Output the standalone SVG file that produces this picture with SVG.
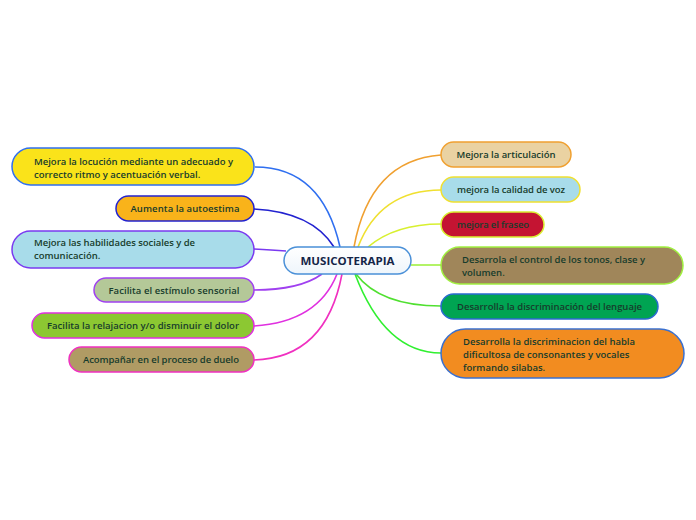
<svg xmlns="http://www.w3.org/2000/svg" width="696" height="520" viewBox="0 0 696 520">
<defs>
<linearGradient id="cg" x1="0" y1="0" x2="0" y2="1">
<stop offset="0" stop-color="#ffffff"/>
<stop offset="1" stop-color="#eef5fb"/>
</linearGradient>
<style>
.t{font-family:"Open Sans","Noto Sans","DejaVu Sans",sans-serif;font-size:9.5px;font-weight:600;fill:#173c2c}
.m{text-anchor:middle}
.c{font-family:"Open Sans","Noto Sans","DejaVu Sans",sans-serif;font-size:11px;font-weight:700;fill:#142548;text-anchor:middle}
.n{stroke-width:1.5}
#connectors path{fill:none;stroke-width:1.6}
</style>
</defs>
<rect width="696" height="520" fill="#ffffff"/>
<g id="connectors">
<path d="M255,167 Q322,167 340,247" stroke="#2f6ff0"/>
<path d="M254,209 Q312,212 334,247" stroke="#2222d0"/>
<path d="M254,249 Q272,250 286,251" stroke="#7a3af0"/>
<path d="M254,290 Q300,290 322,274" stroke="#a040f0"/>
<path d="M254,326 Q318,322 337,274" stroke="#e030e0"/>
<path d="M254,360 Q326,358 342,274" stroke="#f030c0"/>
<path d="M441,155 Q370,160 354,247" stroke="#f0a030"/>
<path d="M441,190 Q380,190 358,247" stroke="#f0e030"/>
<path d="M441,224 Q395,224 368,247" stroke="#d8f030"/>
<path d="M411,265 L441,265" stroke="#a0f040"/>
<path d="M356,274 Q380,306 441,306" stroke="#50e030"/>
<path d="M355,274 Q385,353 441,353" stroke="#30f030"/>
</g>
<g id="center">
<rect x="284" y="247" width="127" height="27" rx="13.5" fill="url(#cg)" stroke="#4a90d8" stroke-width="1.5"/>
<text class="c" x="347.5" y="265" textLength="94" lengthAdjust="spacingAndGlyphs">MUSICOTERAPIA</text>
</g>
<g id="l1">
<rect class="n" x="12" y="148" width="242" height="37" rx="18.5" fill="#fae31a" stroke="#2f6ff0"/>
<text class="t" x="34" y="164.5" textLength="199">Mejora la locución mediante un adecuado y</text>
<text class="t" x="34" y="177.5">correcto ritmo y acentuación verbal.</text>
</g>
<g id="l2">
<rect class="n" x="116" y="196" width="138" height="25" rx="12.5" fill="#f9b31a" stroke="#2222d0"/>
<text class="t m" x="185" y="212" textLength="109">Aumenta la autoestima</text>
</g>
<g id="l3">
<rect class="n" x="12" y="231" width="242" height="37" rx="18.5" fill="#a8dcea" stroke="#7a3af0"/>
<text class="t" x="34" y="245.5" textLength="161">Mejora las habilidades sociales y de</text>
<text class="t" x="34" y="258.5">comunicación.</text>
</g>
<g id="l4">
<rect class="n" x="94" y="278" width="160" height="24" rx="12" fill="#b4c898" stroke="#a040f0"/>
<text class="t m" x="174" y="293.5" textLength="131">Facilita el estímulo sensorial</text>
</g>
<g id="l5">
<rect class="n" x="32" y="313" width="222" height="25" rx="12.5" fill="#8cc832" stroke="#e030e0"/>
<text class="t m" x="143" y="329" textLength="192">Facilita la relajacion y/o disminuir el dolor</text>
</g>
<g id="l6">
<rect class="n" x="69" y="347" width="185" height="25" rx="12.5" fill="#b09b64" stroke="#f030c0"/>
<text class="t m" x="161" y="363" textLength="156">Acompañar en el proceso de duelo</text>
</g>
<g id="r1">
<rect class="n" x="441" y="142" width="130" height="25" rx="12.5" fill="#ead2a2" stroke="#f0a030"/>
<text class="t m" x="506" y="158" textLength="99">Mejora la articulación</text>
</g>
<g id="r2">
<rect class="n" x="441" y="177" width="139" height="25" rx="12.5" fill="#a8dcea" stroke="#f0e030"/>
<text class="t m" x="511" y="193" textLength="108">mejora la calidad de voz</text>
</g>
<g id="r3">
<rect class="n" x="441" y="212" width="103" height="25" rx="12.5" fill="#c41432" stroke="#d8f030"/>
<text class="t m" x="493" y="228" textLength="72">mejora el fraseo</text>
</g>
<g id="r4">
<rect class="n" x="441" y="247" width="242" height="37" rx="18.5" fill="#a0865a" stroke="#a0f040"/>
<text class="t" x="462" y="262.5" textLength="183">Desarrola el control de los tonos, clase y</text>
<text class="t" x="462" y="275.5">volumen.</text>
</g>
<g id="r5">
<rect class="n" x="441" y="294" width="217" height="25" rx="12.5" fill="#00a452" stroke="#2a6ad0"/>
<text class="t m" x="549.5" y="310" textLength="185">Desarrolla la discriminación del lenguaje</text>
</g>
<g id="r6">
<rect class="n" x="441" y="329" width="243" height="49" rx="24.5" fill="#f28c20" stroke="#3a70d0"/>
<text class="t" x="463" y="344.5" textLength="172">Desarrolla la discriminacion del habla</text>
<text class="t" x="463" y="357.5">dificultosa de consonantes y vocales</text>
<text class="t" x="463" y="370.5">formando silabas.</text>
</g>
</svg>
